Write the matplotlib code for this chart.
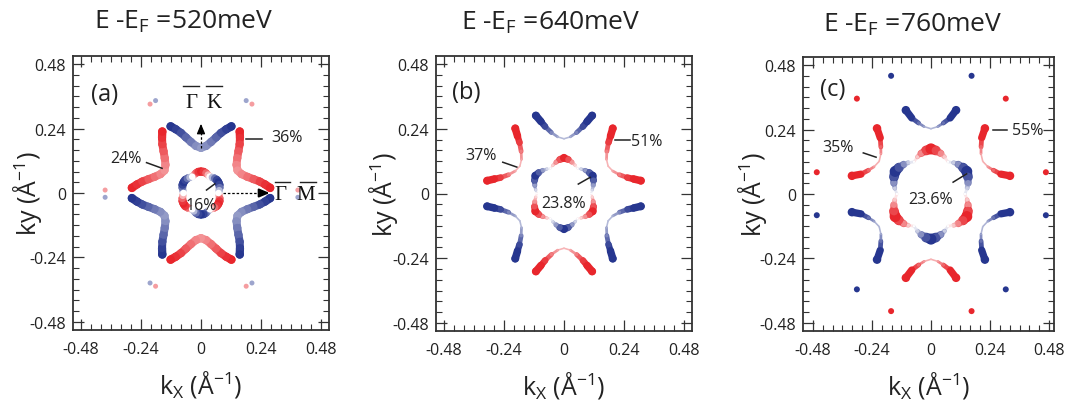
import numpy as np
import matplotlib
matplotlib.use('Agg')
import matplotlib.pyplot as plt
from matplotlib.collections import LineCollection

plt.rcParams['font.family'] = ['Open Sans', 'DejaVu Sans']
plt.rcParams['mathtext.fontset'] = 'custom'
plt.rcParams['mathtext.rm'] = 'Open Sans'
plt.rcParams['mathtext.it'] = 'Open Sans:italic'

# ---- data ----------------------------------------------------------------
# each contour is given as the right half of the piece around the +ky axis
# (valley -> tip); the rest follows from the six-fold symmetry, where the
# spin polarisation (pol, red > 0, blue < 0) flips sign with every 60 deg turn.
# wt = apparent marker diameter in pixels (spectral weight)

titles = ['E -E$_\\mathregular{F}$ =520meV', 'E -E$_\\mathregular{F}$ =640meV',
          'E -E$_\\mathregular{F}$ =760meV']
panel_tags = ['(a)', '(b)', '(c)']

# (a) 520 meV
a_out_kx = np.array([0.0, 0.02, 0.04, 0.06, 0.08, 0.10, 0.121])
a_out_ky = np.array([0.168, 0.175, 0.19, 0.207, 0.224, 0.237, 0.248])
a_out_pol = -np.array([0.5, 0.56, 0.66, 0.76, 0.87, 0.95, 1.0])
a_out_wt = np.array([8, 8, 8, 8, 8, 8, 8.5])
a_in_kx = np.array([0.0, 0.0104, 0.0199, 0.028, 0.035])
a_in_ky = np.array([0.080, 0.0789, 0.0743, 0.0676, 0.0606])
a_in_pol = np.array([1.0, 0.92, 0.7, 0.35, 0.0])
a_in_wt = np.array([8, 8, 7.5, 7, 6.5])
a_dot_kx = [-0.203, -0.181, 0.18, 0.203, -0.382, -0.382, 0.386, 0.386,
            -0.203, -0.181, 0.18, 0.203]
a_dot_ky = [0.331, 0.344, 0.344, 0.331, 0.011, -0.016, 0.011, -0.016,
            -0.335, -0.347, -0.347, -0.335]
a_dot_pol = [0.45, -0.45, -0.45, 0.45, 0.45, -0.45, 0.45, -0.45,
             -0.45, 0.45, 0.45, -0.45]

# (b) 640 meV
b_out_kx = np.array([0.0, 0.025, 0.05, 0.075, 0.092, 0.112])
b_out_ky = np.array([0.203, 0.21, 0.226, 0.248, 0.267, 0.289])
b_out_pol = -np.array([0.3, 0.4, 0.6, 0.9, 1.0, 1.0])
b_out_wt = np.array([1.2, 2.0, 3.5, 6.0, 7.0, 8.0])
b_in_kx = np.array([0.0, 0.017, 0.032, 0.045, 0.054])
b_in_ky = np.array([0.132, 0.126, 0.116, 0.104, 0.093])
b_in_pol = np.array([1.0, 0.8, 0.5, 0.2, 0.0])
b_in_wt = np.array([8.0, 6.0, 4.0, 2.5, 1.5])

# (c) 760 meV
c_out_kx = np.array([0.0, 0.028, 0.05, 0.078, 0.102])
c_out_ky = np.array([0.243, 0.251, 0.264, 0.283, 0.312])
c_out_pol = -np.array([0.3, 0.45, 0.7, 1.0, 1.0])
c_out_wt = np.array([1.2, 2.0, 3.5, 6.0, 8.5])
c_in_kx = np.array([0.0, 0.02, 0.04, 0.055, 0.069])
c_in_ky = np.array([0.168, 0.162, 0.151, 0.138, 0.12])
c_in_pol = np.array([1.0, 0.85, 0.55, 0.25, 0.0])
c_in_wt = np.array([11.0, 8.5, 6.0, 3.5, 2.0])
c_dot_kx = [-0.162, 0.165, -0.301, 0.304, -0.464, 0.467, -0.464, 0.467,
            -0.301, 0.304, -0.162, 0.165]
c_dot_ky = [0.44, 0.44, 0.355, 0.355, 0.081, 0.081, -0.079, -0.079,
            -0.355, -0.355, -0.436, -0.436]
c_dot_pol = [-1, -1, 1, 1, 1, 1, -1, -1, -1, -1, 1, 1]

# percentage labels: (text, label x, label y, leader x0, y0, x1, y1)
a_notes = [('24%', -0.30, 0.13, -0.217, 0.113, -0.155, 0.092),
           ('36%', 0.343, 0.207, 0.18, 0.2, 0.245, 0.2),
           ('16%', 0.0, -0.045, 0.022, 0.011, 0.055, 0.034)]
b_notes = [('37%', -0.33, 0.141, -0.244, 0.116, -0.188, 0.098),
           ('51%', 0.33, 0.193, 0.203, 0.2, 0.263, 0.2),
           ('23.8%', 0.0, -0.035, 0.057, 0.035, 0.104, 0.06)]
c_notes = [('35%', -0.377, 0.176, -0.275, 0.153, -0.223, 0.137),
           ('55%', 0.393, 0.237, 0.253, 0.237, 0.307, 0.237),
           ('23.6%', 0.0, -0.019, 0.09, 0.044, 0.145, 0.075)]

ticks = [-0.48, -0.24, 0, 0.24, 0.48]
tick_labels = ['-0.48', '-0.24', '0', '0.24', '0.48']

RED = np.array([232, 38, 44]) / 255
BLUE = np.array([38, 54, 143]) / 255
PX = 0.72  # points per pixel at dpi 100
INK = '#333333'


def spin_color(p):
    base = RED if p > 0 else BLUE
    a = min(abs(p), 1.0)
    return tuple(1 - a * (1 - base))


def sixfold(kx, ky, pol, wt):
    # mirror the half piece about ky, then turn it by 60 deg steps
    x = np.concatenate([-kx[::-1], kx[1:]])
    y = np.concatenate([ky[::-1], ky[1:]])
    p = np.concatenate([pol[::-1], pol[1:]])
    w = np.concatenate([wt[::-1], wt[1:]])
    pieces = []
    for k in range(6):
        t = np.deg2rad(60 * k)
        xr = x * np.cos(t) - y * np.sin(t)
        yr = x * np.sin(t) + y * np.cos(t)
        pieces.append((xr, yr, p * (-1) ** k, w))
    return pieces


def draw_piece(ax, x, y, p, w):
    pts = np.column_stack([x, y])
    segs = np.stack([pts[:-1], pts[1:]], axis=1)
    cols = [spin_color(v) for v in (p[:-1] + p[1:]) / 2]
    lc = LineCollection(segs, colors=cols, linewidths=(w[:-1] + w[1:]) / 2 * PX,
                        capstyle='round', joinstyle='round', zorder=2)
    ax.add_collection(lc)
    ax.scatter(x, y, s=(w * PX) ** 2, c=[spin_color(v) for v in p],
               linewidths=0, zorder=3)


fig = plt.figure(figsize=(10.69, 4.06), dpi=100)
boxes = [[73, 75, 256, 274], [436, 74, 256, 275], [803, 74, 251, 274]]
xlims = [(-0.51, 0.51), (-0.51, 0.51), (-0.52, 0.50)]
title_pos = [(183.5, 28.3), (551, 30), (913, 31.7)]
ylab_x = [-0.178, -0.207, -0.203]

contours = [[(a_out_kx, a_out_ky, a_out_pol, a_out_wt), (a_in_kx, a_in_ky, a_in_pol, a_in_wt)],
            [(b_out_kx, b_out_ky, b_out_pol, b_out_wt), (b_in_kx, b_in_ky, b_in_pol, b_in_wt)],
            [(c_out_kx, c_out_ky, c_out_pol, c_out_wt), (c_in_kx, c_in_ky, c_in_pol, c_in_wt)]]
notes = [a_notes, b_notes, c_notes]
tag_pos = [(-0.383, 0.368), (-0.39, 0.378), (-0.40, 0.39)]

for i in range(3):
    l, b, w, h = boxes[i]
    ax = fig.add_axes([l / 1069, b / 406, w / 1069, h / 406])
    ax.set_xlim(*xlims[i])
    ax.set_ylim(-0.51, 0.51)

    for curve in contours[i]:
        for piece in sixfold(*curve):
            draw_piece(ax, *piece)

    if i == 0:
        ax.scatter(a_dot_kx, a_dot_ky, s=(5 * PX) ** 2,
                   c=[spin_color(v) for v in a_dot_pol], linewidths=0, zorder=3)
    if i == 2:
        ax.scatter(c_dot_kx, c_dot_ky, s=(6 * PX) ** 2,
                   c=[spin_color(v) for v in c_dot_pol], linewidths=0, zorder=3)

    for txt, tx, ty, x0, y0, x1, y1 in notes[i]:
        ax.text(tx, ty, txt, fontsize=11.5, ha='center', va='center', color='#222222', zorder=5)
        ax.plot([x0, x1], [y0, y1], color='#222222', lw=1.1, zorder=5)

    ax.text(*tag_pos[i], panel_tags[i], fontsize=17, ha='center', va='center', color='#222222')

    ax.set_xticks(ticks)
    ax.set_xticklabels(tick_labels)
    ax.set_yticks(ticks)
    ax.set_yticklabels(tick_labels)
    ax.set_xticks(np.arange(-0.48, 0.481, 0.04), minor=True)
    ax.set_yticks(np.arange(-0.48, 0.481, 0.04), minor=True)
    ax.tick_params(which='both', direction='in', top=True, right=True,
                   color=INK, labelsize=11.5, labelcolor='#222222')
    ax.tick_params(which='major', length=8, width=0.9)
    ax.tick_params(which='minor', length=4.5, width=0.8)
    ax.tick_params(axis='x', pad=8)
    ax.tick_params(axis='y', pad=5)
    for s in ax.spines.values():
        s.set_color(INK)
        s.set_linewidth(1.3)

    ax.set_xlabel('k$_\\mathregular{X}$ (Å$^\\mathregular{-1}$)', fontsize=18, va='center', color='#222222')
    ax.xaxis.set_label_coords(0.5, -0.195)
    ax.set_ylabel('ky (Å$^\\mathregular{-1}$)', fontsize=18, va='center', color='#222222')
    ax.yaxis.set_label_coords(ylab_x[i], 0.5)

    tx, ty = title_pos[i]
    fig.text(tx / 1069, 1 - ty / 406, titles[i], fontsize=19, ha='center',
             va='baseline', color='#222222')

    if i == 0:
        # Gamma-K and Gamma-M directions
        ax.plot([0, 0], [0.168, 0.235], color='k', lw=0.9, ls=(0, (2, 1.5)), zorder=4)
        ax.annotate('', xy=(0, 0.268), xytext=(0, 0.228),
                    arrowprops=dict(arrowstyle='-|>,head_width=0.25,head_length=0.6',
                                    color='k', lw=0.9), zorder=4)
        ax.plot([0.088, 0.245], [0, 0], color='k', lw=0.9, ls=(0, (2, 1.5)), zorder=4)
        ax.annotate('', xy=(0.285, 0), xytext=(0.24, 0),
                    arrowprops=dict(arrowstyle='-|>,head_width=0.25,head_length=0.6',
                                    color='k', lw=1.5), zorder=4)
        for sym, sx, sy, bx0, bx1, by in [('Γ', -0.04, 0.336, -0.072, -0.009, 0.40),
                                          ('K', 0.052, 0.336, 0.02, 0.085, 0.40),
                                          ('Γ', 0.318, -0.004, 0.296, 0.355, 0.04),
                                          ('M', 0.416, -0.004, 0.394, 0.46, 0.04)]:
            ax.text(sx, sy, sym, family='Liberation Serif', fontsize=15,
                    ha='center', va='center', color='#111111', zorder=5, clip_on=False)
            ax.plot([bx0, bx1], [by, by], color='#222222', lw=1.0, zorder=5, clip_on=False)

fig.savefig('out.png', dpi=100)
